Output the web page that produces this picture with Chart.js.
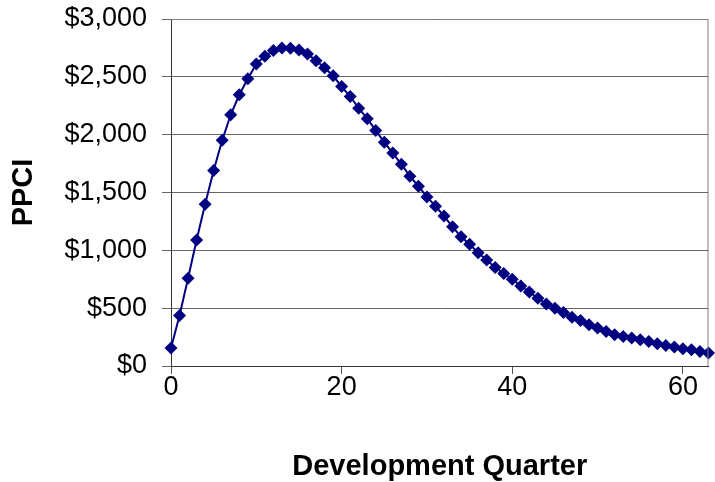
<!DOCTYPE html>
<html>
<head>
<meta charset="utf-8">
<script src="https://cdn.jsdelivr.net/npm/chart.js@4/dist/chart.umd.min.js"></script>
<style>
  html, body { margin: 0; padding: 0; background: #fff; }
  #wrap { width: 715px; height: 482px; }
</style>
</head>
<body>
<div id="wrap"><canvas id="ppci"></canvas></div>
<script>
// quarters 0..63 and the paid-per-claim-incurred values
const quarters = [0, 1, 2, 3, 4, 5, 6, 7, 8, 9, 10, 11, 12, 13, 14, 15, 16, 17, 18, 19,
    20, 21, 22, 23, 24, 25, 26, 27, 28, 29, 30, 31, 32, 33, 34, 35, 36, 37, 38, 39,
    40, 41, 42, 43, 44, 45, 46, 47, 48, 49, 50, 51, 52, 53, 54, 55, 56, 57, 58, 59,
    60, 61, 62, 63];
const ppci = [155, 436, 759, 1089, 1399, 1690, 1951, 2172, 2345, 2483,
    2612, 2678, 2727, 2750, 2748, 2733, 2698, 2640, 2578, 2509,
    2416, 2330, 2229, 2138, 2037, 1934, 1841, 1744, 1641, 1554,
    1462, 1382, 1296, 1203, 1117, 1052, 979, 916, 852, 800,
    750, 692, 640, 586, 537, 500, 462, 422, 393, 356,
    328, 298, 270, 255, 241, 227, 212, 192, 178, 164,
    149, 140, 126, 112];
const xTicks = [0, 20, 40, 60];
const yTicks = [0, 500, 1000, 1500, 2000, 2500, 3000];

const FONT = "'Liberation Sans', Arial, sans-serif";

// gray frame on top and right of the plot area
const frame = {
    id: 'frame',
    afterDraw(chart) {
        const a = chart.chartArea, ctx = chart.ctx;
        ctx.save();
        ctx.strokeStyle = '#808080';
        ctx.lineWidth = 1;
        ctx.beginPath();
        ctx.moveTo(a.left, a.top + 0.5);
        ctx.lineTo(a.right - 0.5, a.top + 0.5);
        ctx.lineTo(a.right - 0.5, a.bottom);
        ctx.stroke();
        ctx.restore();
    }
};

window.onload = function() {
    const pts = quarters.map((q, i) => ({x: q, y: ppci[i]}));
    new Chart(document.getElementById('ppci'), {
        type: 'line',
        data: {
            datasets: [{
                label: 'PPCI',
                data: pts,
                borderColor: '#000080',
                backgroundColor: '#000080',
                borderWidth: 2,
                pointStyle: 'rectRot',
                pointRadius: 6.5,
                pointBorderWidth: 0,
                tension: 0,
                fill: false,
                clip: 12
            }]
        },
        options: {
            responsive: true,
            maintainAspectRatio: false,
            animation: false,
            layout: { padding: { top: 19, right: 1, left: 0, bottom: 0 } },
            plugins: { legend: { display: false }, tooltip: { enabled: false } },
            scales: {
                x: {
                    type: 'linear',
                    min: 0,
                    max: 63,
                    afterFit: s => { s.height = 116; s.paddingRight = 0; },
                    afterBuildTicks: s => { s.ticks = xTicks.map(v => ({value: v})); },
                    ticks: {
                        color: '#000',
                        padding: 0,
                        font: { family: FONT, size: 27, lineHeight: 1 }
                    },
                    grid: { drawOnChartArea: false, tickLength: 8, color: '#555' },
                    border: { color: '#333', width: 1 },
                    title: {
                        display: true,
                        text: 'Development Quarter',
                        color: '#000',
                        font: { family: FONT, size: 29, weight: 'bold' },
                        padding: { top: -2, bottom: -2 }
                    }
                },
                y: {
                    min: 0,
                    max: 3000,
                    afterFit: s => { s.width = 171; s.paddingTop = 0; s.paddingBottom = 0; },
                    afterBuildTicks: s => { s.ticks = yTicks.map(v => ({value: v})); },
                    ticks: {
                        color: '#000',
                        padding: 15,
                        font: { family: FONT, size: 27 },
                        callback: v => '$' + v.toLocaleString('en-US')
                    },
                    grid: { color: '#666', tickLength: 9 },
                    border: { color: '#333', width: 1 },
                    title: {
                        display: true,
                        text: 'PPCI',
                        color: '#000',
                        font: { family: FONT, size: 29, weight: 'bold' },
                        padding: { top: 7, bottom: 0 }
                    }
                }
            }
        },
        plugins: [frame]
    });
};
</script>
</body>
</html>
